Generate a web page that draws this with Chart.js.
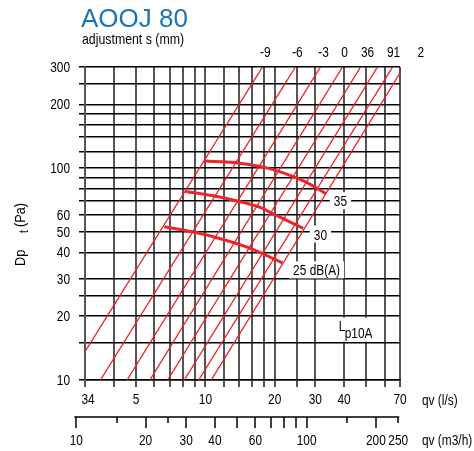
<!DOCTYPE html>
<html>
<head>
<meta charset="utf-8">
<script src="https://cdn.jsdelivr.net/npm/chart.js@4/dist/chart.umd.min.js"></script>
<style>
  body { margin: 0; background: #fff; }
  canvas { display: block; }
</style>
</head>
<body>
<canvas id="chart" width="474" height="451"></canvas>
<script>
// qv (l/s) axis
const qvGrid = [3, 4, 5, 6, 7, 8, 9, 10, 12, 14, 16, 18, 20, 25, 30, 40, 50, 60, 70];
const qvLabelValues = [3, 5, 10, 20, 30, 40, 70];
const qvLabelTexts = ['34', '5', '10', '20', '30', '40', '70'];

// Dp t (Pa) axis
const dpGrid = [10, 15, 20, 25, 30, 40, 50, 60, 70, 80, 90, 100, 120, 140, 160, 180, 200, 250, 300];
const dpLabelValues = [10, 20, 30, 40, 50, 60, 100, 200, 300];

// qv (m3/h) axis
const m3hTicks = [10, 15, 20, 25, 30, 40, 50, 60, 70, 80, 90, 100, 150, 200, 250];
const m3hShort = [15, 25, 150, 250];
const m3hLabelValues = [10, 20, 30, 40, 60, 100, 200, 250];

// adjustment lines, start and end point of each
const adjStartQ = [3.0, 3.50, 4.57, 5.74, 6.86, 8.10, 9.35, 10.6];
const adjStartDp = [13.6, 10, 10, 10, 10, 10, 10, 10];
const adjEndQ = [17.7, 24.6, 31.6, 39.4, 47.2, 55.9, 65.0, 70];
const adjEndDp = [300, 300, 300, 300, 300, 300, 300, 281];

// adjustment s labels above the plot
const adjTexts = ['-9', '-6', '-3', '0', '36', '91', '2'];
const adjTextQ = [18.2, 25.1, 32.6, 40.2, 50.6, 65.6, 86.1];

// sound level curves
const db35Q = [9.93, 13.3, 17.3, 20.5, 27.2, 33.3];
const db35Dp = [107.9, 106.4, 101.9, 97.0, 86.1, 75.9];
const db30Q = [8.19, 11.24, 13.74, 17.3, 19.2, 26.6];
const db30Dp = [77.6, 73.5, 70.0, 65.2, 61.7, 51.9];
const db25Q = [6.63, 8.89, 11.62, 15.4, 21.6];
const db25Dp = [52.9, 49.9, 46.4, 42.1, 35.7];

// curve label texts and anchor points
const dbTexts = ['35', '30', '25 dB(A)'];
const dbTextQ = [38.6, 31.6, 30.4];
const dbTextDp = [69.8, 48.6, 32.9];

const RED = '#ee1c24';
const SANS = '"Liberation Sans", Arial, sans-serif';
const SQUEEZE = 0.85; // the original uses a narrow face

function pts(qs, dps) {
    return qs.map((q, i) => ({ x: q, y: dps[i] }));
}

const datasets = [];
adjStartQ.forEach((q, i) => {
    datasets.push({
        data: [{ x: q, y: adjStartDp[i] }, { x: adjEndQ[i], y: adjEndDp[i] }],
        borderColor: RED,
        borderWidth: 1.3
    });
});
[[db35Q, db35Dp], [db30Q, db30Dp], [db25Q, db25Dp]].forEach(c => {
    datasets.push({
        data: pts(c[0], c[1]),
        borderColor: '#e8262b',
        borderWidth: 3,
        cubicInterpolationMode: 'monotone'
    });
});
datasets.forEach(d => { d.showLine = true; d.pointRadius = 0; d.fill = false; });

// narrow text: scaled horizontally around its anchor
function text(ctx, str, x, y, align, size) {
    ctx.save();
    ctx.font = size + 'px ' + SANS;
    ctx.textAlign = align;
    ctx.translate(x, y);
    ctx.scale(SQUEEZE, 1);
    ctx.fillText(str, 0, 0);
    ctx.restore();
}

function textWidth(ctx, str, size) {
    ctx.save();
    ctx.font = size + 'px ' + SANS;
    const w = ctx.measureText(str).width * SQUEEZE;
    ctx.restore();
    return w;
}

function boxedText(ctx, str, x, y) {
    const w = textWidth(ctx, str, 14);
    ctx.fillStyle = '#fff';
    ctx.fillRect(x - w / 2 - 4, y - 9, w + 8, 17);
    ctx.fillStyle = '#000';
    text(ctx, str, x, y + 5, 'center', 14);
}

const overlay = {
    id: 'overlay',
    afterDraw(chart) {
        const ctx = chart.ctx;
        const xs = chart.scales.x, ys = chart.scales.y;
        const area = chart.chartArea;
        ctx.save();
        ctx.textBaseline = 'alphabetic';

        // title
        ctx.fillStyle = '#1a75bb';
        ctx.font = '26px ' + SANS;
        ctx.textAlign = 'left';
        ctx.fillText('AOOJ 80', 81, 27);
        ctx.fillStyle = '#000';
        text(ctx, 'adjustment s (mm)', 82, 43.5, 'left', 14.5);

        // tick labels
        qvLabelValues.forEach((v, i) => {
            text(ctx, qvLabelTexts[i], xs.getPixelForValue(v) + (i === 0 ? 3 : 0), 404, 'center', 14);
        });
        dpLabelValues.forEach(v => {
            text(ctx, String(v), 70, ys.getPixelForValue(v) + 5, 'right', 14);
        });

        // adjustment labels
        adjTexts.forEach((t, i) => {
            text(ctx, t, xs.getPixelForValue(adjTextQ[i]), 57, 'center', 14);
        });

        // curve labels with white boxes
        dbTexts.forEach((t, i) => {
            boxedText(ctx, t, xs.getPixelForValue(dbTextQ[i]), ys.getPixelForValue(dbTextDp[i]));
        });

        // Lp10A
        const lx = xs.getPixelForValue(37.9), ly = ys.getPixelForValue(17.1);
        ctx.fillStyle = '#fff';
        ctx.fillRect(lx - 3, ly - 13, 44, 24);
        ctx.fillStyle = '#000';
        text(ctx, 'L', lx, ly, 'left', 14);
        text(ctx, 'p10A', lx + 6, ly + 7, 'left', 14);

        // axis titles
        text(ctx, 'qv (l/s)', 422, 405, 'left', 14);
        text(ctx, 'qv (m3/h)', 422, 445, 'left', 14);

        ctx.save();
        ctx.translate(25, 266);
        ctx.rotate(-Math.PI / 2);
        text(ctx, 'Dp', 0, 0, 'left', 15);
        text(ctx, 't', 33, 3, 'left', 12);
        text(ctx, '(Pa)', 39, 0, 'left', 15);
        ctx.restore();

        // second axis qv (m3/h)
        const ay = 417;
        ctx.strokeStyle = '#000';
        ctx.lineWidth = 1.5;
        ctx.beginPath();
        ctx.moveTo(xs.getPixelForValue(10 / 3.6) - 3, ay);
        ctx.lineTo(xs.getPixelForValue(250 / 3.6), ay);
        m3hTicks.forEach(v => {
            const px = Math.round(xs.getPixelForValue(v / 3.6)) - 1;
            ctx.moveTo(px, ay);
            ctx.lineTo(px, ay + (m3hShort.includes(v) ? 6 : 11));
        });
        ctx.stroke();
        m3hLabelValues.forEach(v => {
            text(ctx, String(v), xs.getPixelForValue(v / 3.6) - 1, 445, 'center', 14);
        });

        ctx.restore();
    }
};

new Chart(document.getElementById('chart'), {
    type: 'scatter',
    data: { datasets: datasets },
    options: {
        responsive: false,
        devicePixelRatio: 1,
        animation: false,
        layout: { padding: { left: 0, right: 74, top: 67, bottom: 41 } },
        plugins: { legend: { display: false }, tooltip: { enabled: false } },
        scales: {
            x: {
                type: 'logarithmic',
                min: 3,
                max: 70,
                afterBuildTicks: s => { s.ticks = qvGrid.map(v => ({ value: v })); },
                afterFit: s => { s.height = 30; },
                grid: { color: '#555', lineWidth: 2, tickLength: 7, tickColor: '#555' },
                border: { display: true, color: '#000', width: 1.5 },
                ticks: { display: false, autoSkip: false }
            },
            y: {
                type: 'logarithmic',
                min: 10,
                max: 300,
                afterBuildTicks: s => { s.ticks = dpGrid.map(v => ({ value: v })); },
                afterFit: s => { s.width = 85; },
                grid: { color: '#000', lineWidth: 1.5, tickLength: 6, tickColor: '#000' },
                border: { display: true, color: '#555', width: 2 },
                ticks: { display: false, autoSkip: false }
            }
        }
    },
    plugins: [overlay]
});
</script>
</body>
</html>
